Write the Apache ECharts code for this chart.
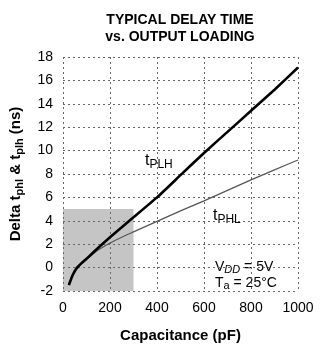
<!DOCTYPE html>
<html>
<head>
<meta charset="utf-8">
<script src="https://cdn.jsdelivr.net/npm/echarts@6/dist/echarts.min.js"></script>
<style>
  html, body { margin: 0; padding: 0; background: #fff; }
  #chart { width: 320px; height: 348px; }
</style>
</head>
<body>
<div id="chart"></div>
<script>
// values
const capacitance = [25, 40, 50, 60, 80, 100, 150, 200, 250, 300, 400, 500, 600, 700, 800, 900, 1000];
const tPLH = [-1.5, -0.7, -0.3, 0.0, 0.4, 0.75, 1.7, 2.6, 3.45, 4.3, 6.0, 7.9, 9.8, 11.6, 13.4, 15.2, 17.1];
const tPHL = [-1.3, -0.75, -0.4, -0.1, 0.35, 0.7, 1.5, 2.1, 2.6, 3.05, 3.95, 4.85, 5.7, 6.6, 7.5, 8.35, 9.2];
const xTicks = [0, 200, 400, 600, 800, 1000];
const yTicks = [-2, 0, 2, 4, 6, 8, 10, 12, 14, 16, 18];
const shadedBox = [[0, -2], [300, 5]];

const font = "Liberation Sans, Arial, sans-serif";
const myChart = echarts.init(document.getElementById("chart"));

const axisText = { fontFamily: font, fontSize: 14, color: "#000", margin: 10 };
// grid has to be fairly dark or it vanishes in the render
const gridLine = { show: true, lineStyle: { color: "#666", width: 1, type: [2, 3] } };

const options = {
  animation: false,
  title: {
    text: "TYPICAL DELAY TIME\nvs. OUTPUT LOADING",
    left: 175,
    top: 7,
    textAlign: "center",
    textStyle: {
      fontFamily: font,
      fontSize: 14,
      fontWeight: "bold",
      lineHeight: 17,
      color: "#000",
    },
  },
  grid: { left: 55, right: 22, top: 57, bottom: 48 },
  xAxis: {
    type: "value",
    min: xTicks[0],
    max: xTicks[xTicks.length - 1],
    interval: 200,
    name: "Capacitance (pF)",
    nameLocation: "middle",
    nameGap: 37,
    nameTextStyle: { fontFamily: font, fontSize: 15, fontWeight: "bold", color: "#000" },
    axisLine: { show: false },
    axisTick: { show: false },
    axisLabel: { ...axisText, formatter: (v) => String(v) },
    splitLine: gridLine,
  },
  yAxis: {
    type: "value",
    min: yTicks[0],
    max: yTicks[yTicks.length - 1],
    interval: 2,
    name: "{m|Delta t}{s|phl}{m| & t}{s|plh}{m| (ns)}",
    nameLocation: "middle",
    nameGap: 38,
    nameTextStyle: {
      rich: {
        m: { fontFamily: font, fontSize: 15, fontWeight: "bold", color: "#000", lineHeight: 19 },
        s: { fontFamily: font, fontSize: 11, fontWeight: "bold", color: "#000", lineHeight: 11, verticalAlign: "bottom" },
      },
    },
    axisLine: { show: false },
    axisTick: { show: false },
    axisLabel: axisText,
    splitLine: gridLine,
  },
  series: [
    {
      // shaded test region, see-through so the grid shows under it
      name: "shade",
      type: "line",
      data: [],
      silent: true,
      z: 1,
      markArea: {
        silent: true,
        itemStyle: { color: "rgba(110,110,110,0.4)" },
        data: [[{ coord: shadedBox[0] }, { coord: shadedBox[1] }]],
      },
    },
    {
      name: "tPLH",
      type: "line",
      data: capacitance.map((c, i) => [c, tPLH[i]]),
      smooth: 0.15,
      symbol: "none",
      lineStyle: { color: "#000", width: 2.6 },
      z: 4,
    },
    {
      name: "tPHL",
      type: "line",
      data: capacitance.map((c, i) => [c, tPHL[i]]),
      smooth: 0.15,
      symbol: "none",
      lineStyle: { color: "#555", width: 1.2 },
      z: 3,
    },
  ],
  graphic: [
    {
      type: "text",
      left: 145,
      top: 153,
      style: {
        text: "{m|t}{s|PLH}",
        rich: {
          m: { fontFamily: font, fontSize: 16, color: "#000", lineHeight: 19 },
          s: { fontFamily: font, fontSize: 12, color: "#000", lineHeight: 12, verticalAlign: "bottom" },
        },
      },
    },
    {
      type: "text",
      left: 213,
      top: 208,
      style: {
        text: "{m|t}{s|PHL}",
        rich: {
          m: { fontFamily: font, fontSize: 16, color: "#000", lineHeight: 19 },
          s: { fontFamily: font, fontSize: 12, color: "#000", lineHeight: 12, verticalAlign: "bottom" },
        },
      },
    },
    {
      type: "text",
      left: 215,
      top: 260,
      style: {
        text: "{m|V}{s|DD}{m| = 5V}",
        rich: {
          m: { fontFamily: font, fontSize: 14, color: "#000", lineHeight: 17 },
          s: { fontFamily: font, fontSize: 11, fontStyle: "italic", color: "#000", lineHeight: 11, verticalAlign: "bottom" },
        },
      },
    },
    {
      type: "text",
      left: 215,
      top: 276,
      style: {
        text: "{m|T}{s|a}{m| = 25°C}",
        rich: {
          m: { fontFamily: font, fontSize: 14, color: "#000", lineHeight: 17 },
          s: { fontFamily: font, fontSize: 11, color: "#000", lineHeight: 11, verticalAlign: "bottom" },
        },
      },
    },
  ],
};

myChart.setOption(options);
</script>
</body>
</html>
